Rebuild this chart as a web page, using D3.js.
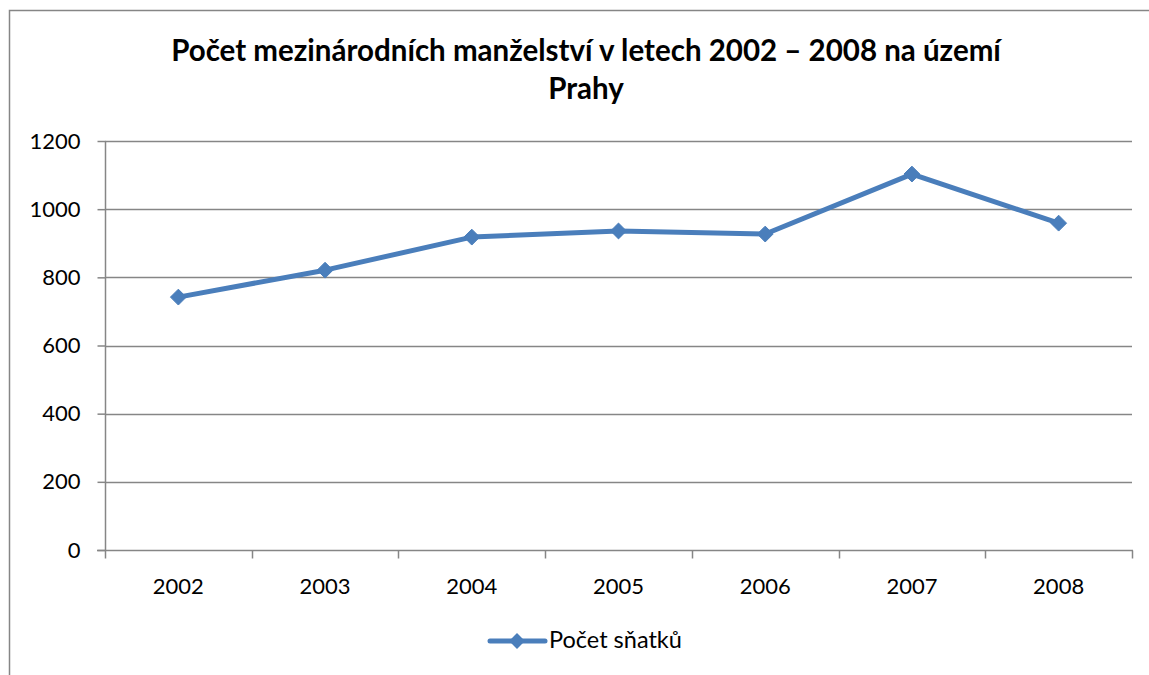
<!DOCTYPE html>
<meta charset="utf-8">
<html>
<head>
    <title>Počet mezinárodních manželství</title>
    <script src="https://cdn.jsdelivr.net/npm/d3@7"></script>
</head>
<style>
    body{
        margin: 0;
        background: #fff;
    }
    svg{
        display: block;
    }
    text{
        font-family: Lato, "Open Sans", sans-serif;
        fill: #000;
    }
    .title{
        font-size: 29.5px;
        font-weight: bold;
    }
    .tick text{
        font-size: 22px;
    }
</style>
<body>
<svg width="1149" height="675"></svg>

<script>
    const years = ["2002", "2003", "2004", "2005", "2006", "2007", "2008"];
    const marriages = [742, 821, 918, 936, 927, 1103, 959];
    const yTicks = [0, 200, 400, 600, 800, 1000, 1200];
    const seriesName = "Počet sňatků";
    const titleLines = ["Počet mezinárodních manželství v letech 2002 – 2008 na území", "Prahy"];

    const svg = d3.select("svg");
    const blue = "#4a7ebb";
    const grey = "#868686";

    // outer frame
    svg.append("rect")
        .attr("x", 9.5).attr("y", 10.5)
        .attr("width", 1160).attr("height", 680)
        .attr("fill", "none")
        .attr("stroke", grey)
        .attr("stroke-width", 1.5);

    // title
    svg.append("text")
        .attr("class", "title")
        .attr("text-anchor", "middle")
        .selectAll("tspan")
        .data(titleLines)
        .join("tspan")
        .attr("x", 586)
        .attr("y", (d, i) => 61 + i * 38)
        .text(d => d);

    const pLeft = 105, pRight = 1132, pTop = 141, pBottom = 550;

    const x = d3.scaleBand().domain(years).range([pLeft, pRight]);
    const y = d3.scaleLinear().domain([0, 1200]).range([pBottom, pTop]);

    // gridlines
    svg.append("g")
        .selectAll("line")
        .data(yTicks.filter(d => d > 0))
        .join("line")
        .attr("x1", pLeft).attr("x2", pRight)
        .attr("y1", d => Math.round(y(d)) + 0.5)
        .attr("y2", d => Math.round(y(d)) + 0.5)
        .attr("stroke", grey)
        .attr("stroke-width", 1.5);

    // y axis
    const yAxis = svg.append("g")
        .attr("transform", `translate(${pLeft + 0.5},0)`)
        .call(d3.axisLeft(y).tickValues(yTicks).tickFormat(d3.format("d")).tickSize(8).tickPadding(17));
    yAxis.selectAll("line, path").attr("stroke", grey).attr("stroke-width", 1.5);
    yAxis.select(".domain").attr("d", `M0,${pTop}V${pBottom}`);
    yAxis.selectAll(".tick text").attr("fill", "#000");

    // x axis with ticks between categories
    const xAxis = svg.append("g")
        .attr("transform", `translate(0,${pBottom + 0.5})`);
    xAxis.append("line")
        .attr("x1", pLeft - 8).attr("x2", pRight + 1)
        .attr("stroke", grey).attr("stroke-width", 1.5);
    const bounds = years.map(d => x(d)).concat([pRight]);
    xAxis.selectAll(".bt")
        .data(bounds)
        .join("line")
        .attr("class", "bt")
        .attr("x1", d => Math.round(d) + 0.5).attr("x2", d => Math.round(d) + 0.5)
        .attr("y1", 0).attr("y2", 8)
        .attr("stroke", grey).attr("stroke-width", 1.5);
    xAxis.selectAll(".lbl")
        .data(years)
        .join("text")
        .attr("class", "lbl")
        .attr("x", d => x(d) + x.bandwidth() / 2)
        .attr("y", 43)
        .attr("text-anchor", "middle")
        .style("font-size", "22px")
        .text(d => d);

    // line
    const cx = d => x(d) + x.bandwidth() / 2;
    const line = d3.line()
        .x((d, i) => cx(years[i]))
        .y(d => y(d));
    svg.append("path")
        .datum(marriages)
        .attr("d", line)
        .attr("fill", "none")
        .attr("stroke", blue)
        .attr("stroke-width", 5)
        .attr("stroke-linejoin", "round")
        .attr("stroke-linecap", "round");

    const diamond = d3.symbol().type(d3.symbolDiamond2).size(160);
    svg.append("g")
        .selectAll("path")
        .data(marriages)
        .join("path")
        .attr("transform", (d, i) => `translate(${cx(years[i])},${y(d)})`)
        .attr("d", diamond)
        .attr("fill", blue)
        .attr("stroke", blue)
        .attr("stroke-width", 1);

    // legend
    const leg = svg.append("g").attr("transform", "translate(490,641)");
    leg.append("line")
        .attr("x1", 0).attr("x2", 55)
        .attr("stroke", blue).attr("stroke-width", 5)
        .attr("stroke-linecap", "round");
    leg.append("path")
        .attr("transform", "translate(27,0)")
        .attr("d", diamond)
        .attr("fill", blue);
    leg.append("text")
        .attr("x", 59).attr("y", 7)
        .style("font-size", "23.5px")
        .text(seriesName);
</script>
</body>
</html>
